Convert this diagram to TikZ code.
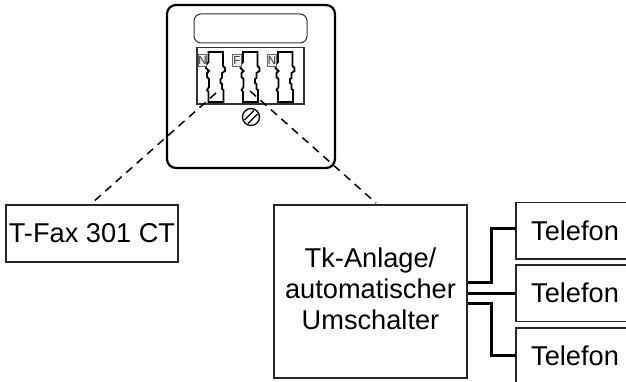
\documentclass[tikz,border=0pt]{standalone}
\usepackage{fontspec}
\setmainfont{Liberation Sans}
\tikzset{
  box/.style={draw=black!85,line width=1.3pt,fill=white,inner sep=0pt,minimum width=0pt},
  lbl/.style={font=\fontsize{27.2}{31}\selectfont,align=center,inner sep=0pt,text=black},
  tag/.style={draw=black!60,line width=.9pt,fill=black!7,inner sep=0pt,font=\fontsize{11.5}{11.5}\selectfont,text=black!80,minimum width=8.5pt,minimum height=12pt},
  dash line/.style={line width=1.5pt,dash pattern=on 8pt off 6pt,draw=black},
  wire/.style={line width=2.2pt,draw=black,line join=miter},
  clip shape/.style={line width=1.8pt,draw=black,line join=miter}
}
\newcommand{\clipshape}[1]{%
  \draw[clip shape,shift={(#1,0)}] (208.5,52) -- (223,52) -- (223,66) -- (225,68) -- (225,71) -- (222,73) -- (222,78) -- (220.5,79) -- (220.5,83) -- (222,84) -- (222,89) -- (223.5,90) -- (223.5,102) -- (208.5,102) -- (208.5,92) -- (207,90) -- (209,87) -- (209,79) -- (207,77) -- (207,73) -- (209,71) -- (206,68) -- (206,65) -- (208.5,62) -- cycle;}
\begin{document}
\begin{tikzpicture}[x=1pt,y=-1pt]
\useasboundingbox (0,0) rectangle (626,382);
\fill[white] (0,0) rectangle (626,382);
% socket
\draw[line width=2.2pt,rounded corners=9pt] (167,5) rectangle (335,168);
\draw[line width=1pt,draw=black!80,rounded corners=7pt] (194,14) rectangle (307,43);
\draw[line width=1.1pt,draw=black!80] (197,47.5) rectangle (304,104);
\clipshape{0}\clipshape{34.5}\clipshape{69.5}
\node[tag] (n1) at (202.5,60.5) {N};
\node[tag] (f) at (237,60.5) {F};
\node[tag] (n2) at (272,60.5) {N};
% screw
\node[circle,draw=black,line width=1.3pt,minimum size=17pt,inner sep=0pt] (screw) at (251,117) {};
\draw[line width=1.3pt] (244.5,120) -- (254,110.5) (248,123.5) -- (257.5,114);
% dashed
\coordinate (a1) at (216,93);
\coordinate (a2) at (250,91);
\node[box,minimum width=172pt,minimum height=57pt,lbl] (fax) at (92,233.5) {T-Fax 301 CT};
\node[box,minimum width=193pt,minimum height=173pt,lbl] (tk) at (370.5,291.5) {};
\node[lbl] (tktext) at (370.5,289) {Tk-Anlage/\\automatischer\\Umschalter};
\draw[dash line] (a1) -- (92,203);
\draw[dash line] (a2) -- (376,203);
% phones
\draw[box] (626,202.5) -- (516,202.5) -- (516,259) -- (626,259);
\draw[box] (626,265) -- (516,265) -- (516,321.5) -- (626,321.5);
\draw[box] (626,328) -- (516,328) -- (516,382);
\node[lbl,anchor=base west] (p1) at (531,240) {Telefon};
\node[lbl,anchor=base west] (p2) at (531,302) {Telefon};
\node[lbl,anchor=base west] (p3) at (531,365) {Telefon};
\coordinate (t1) at (516,228.5);
\coordinate (t2) at (516,293.5);
\coordinate (t3) at (516,355.5);
\draw[wire] (467.5,282.5) -| (491.5,228.5) -- (t1);
\draw[wire] (467.5,293.5) -- (t2);
\draw[wire] (467.5,303.5) -| (491.5,355.5) -- (t3);
\end{tikzpicture}
\end{document}
